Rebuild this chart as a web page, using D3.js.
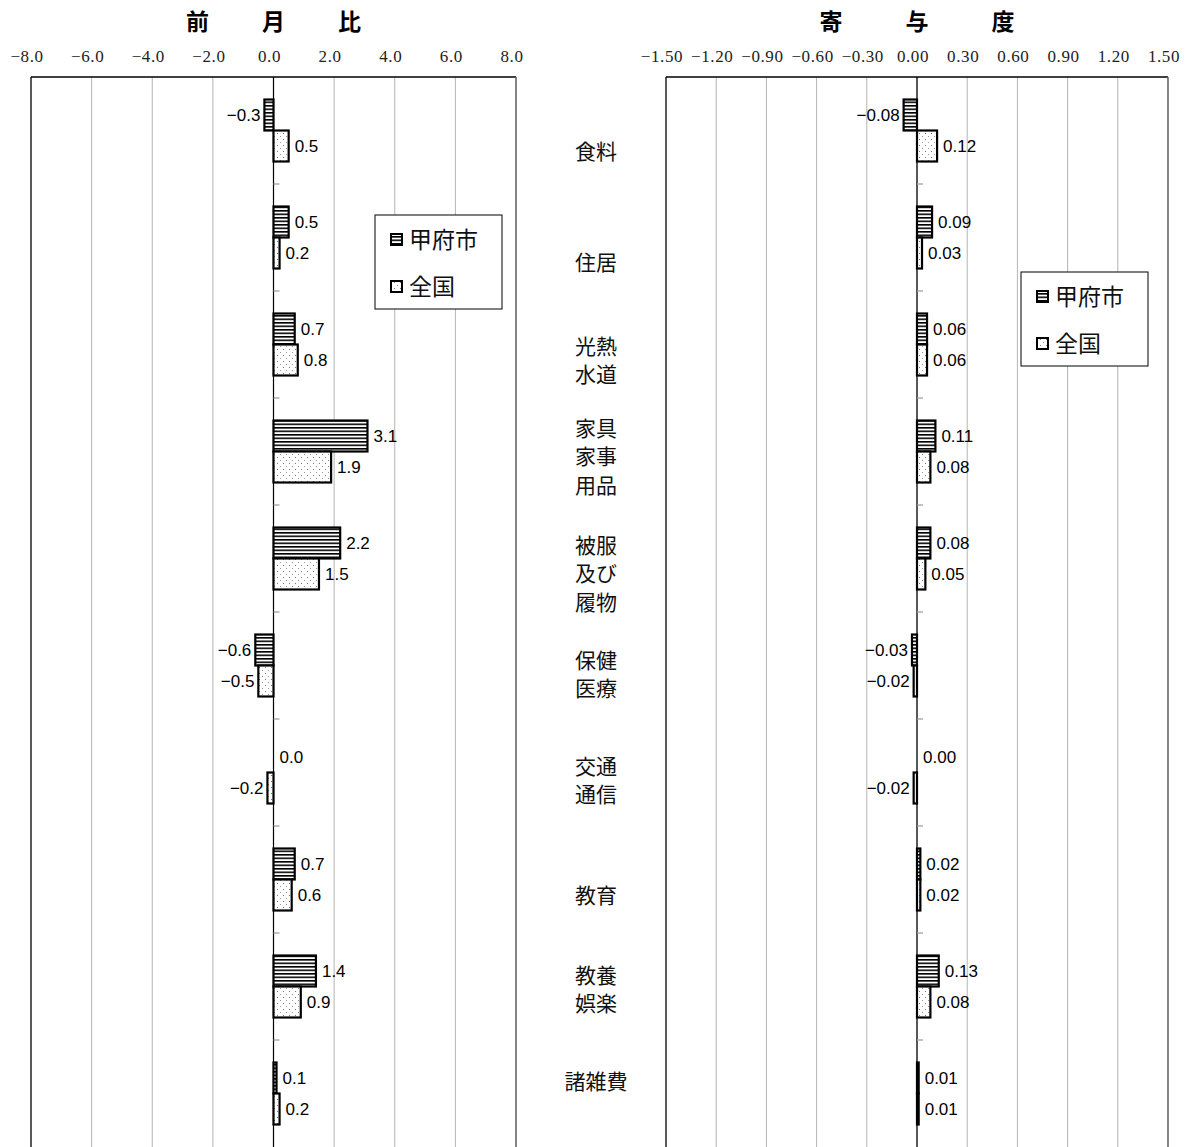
<!DOCTYPE html>
<html><head><meta charset="utf-8">
<script src="https://cdn.jsdelivr.net/npm/d3@7"></script>
<style>body{margin:0;background:#fff} svg{display:block}</style>
</head><body><svg id="c" width="1190" height="1147"></svg>
<script>
// ---- data ----
const categories = ["食料","住居","光熱水道","家具家事用品","被服及び履物","保健医療","交通通信","教育","教養娯楽","諸雑費"];
const categoryLines = [["食料"],["住居"],["光熱","水道"],["家具","家事","用品"],["被服","及び","履物"],["保健","医療"],["交通","通信"],["教育"],["教養","娯楽"],["諸雑費"]];
const seriesNames = ["甲府市","全国"];
const momKofu = [-0.3, 0.5, 0.7, 3.1, 2.2, -0.6, 0.0, 0.7, 1.4, 0.1];
const momNational = [0.5, 0.2, 0.8, 1.9, 1.5, -0.5, -0.2, 0.6, 0.9, 0.2];
const contribKofu = [-0.08, 0.09, 0.06, 0.11, 0.08, -0.03, 0.00, 0.02, 0.13, 0.01];
const contribNational = [0.12, 0.03, 0.06, 0.08, 0.05, -0.02, -0.02, 0.02, 0.08, 0.01];
const momTicks = [-8, -6, -4, -2, 0, 2, 4, 6, 8];
const contribTicks = [-1.5, -1.2, -0.9, -0.6, -0.3, 0, 0.3, 0.6, 0.9, 1.2, 1.5];
const titles = ["前月比", "寄与度"];

// ---- layout ----
const plotTop = 77, plotBottom = 1147;
const labelNudge = [21, 25, 16, 5, 15, 9, 8, 16, 3, -12];
const svg = d3.select("#c");
const defs = svg.append("defs");
const stripe = defs.append("pattern").attr("id","stripe").attr("patternUnits","userSpaceOnUse").attr("width",4).attr("height",3.5);
stripe.append("rect").attr("width",4).attr("height",3.5).attr("fill","#fff");
stripe.append("rect").attr("y",0).attr("width",4).attr("height",1.6).attr("fill","#000");
const dots = defs.append("pattern").attr("id","dots").attr("patternUnits","userSpaceOnUse").attr("width",6).attr("height",6);
dots.append("rect").attr("width",6).attr("height",6).attr("fill","#fff");
dots.append("rect").attr("x",1).attr("y",1).attr("width",1).attr("height",1).attr("fill","#777");
dots.append("rect").attr("x",4).attr("y",4).attr("width",1).attr("height",1).attr("fill","#999");
const fills = {"甲府市":"url(#stripe)","全国":"url(#dots)"};

const y = d3.scaleBand().domain(categories).range([plotTop, plotBottom]);
const ySub = d3.scaleBand().domain(seriesNames).range([0, y.bandwidth()]).paddingOuter(0.726);

function panel(x, kofu, nat, ticks, tickFmt, valFmt, title, titleGap, legend) {
  const g = svg.append("g");
  const [x0, x1] = x.range();
  // grid
  g.selectAll("line.grid").data(ticks.slice(1, -1)).join("line")
    .attr("x1", d => x(d)).attr("x2", d => x(d)).attr("y1", plotTop).attr("y2", plotBottom)
    .attr("stroke", "#b4b4b4").attr("stroke-width", 1);
  // frame
  g.append("line").attr("x1", x0).attr("x2", x1).attr("y1", plotTop).attr("y2", plotTop).attr("stroke","#000").attr("stroke-width",1.3);
  g.append("line").attr("x1", x0).attr("x2", x0).attr("y1", plotTop).attr("y2", plotBottom).attr("stroke","#000").attr("stroke-width",1.3);
  g.append("line").attr("x1", x1).attr("x2", x1).attr("y1", plotTop).attr("y2", plotBottom).attr("stroke","#666").attr("stroke-width",1.6);
  // tick labels
  g.selectAll("text.tick").data(ticks).join("text")
    .attr("x", d => x(d) - 4).attr("y", 62).attr("text-anchor","middle")
    .attr("font-family","'Liberation Serif', serif").attr("font-size", 17).attr("letter-spacing", 0.6).attr("fill","#222")
    .text(d => tickFmt(d));
  // title
  const tc = x(0);
  g.selectAll("text.title").data(title.split("")).join("text")
    .attr("x", (d,i) => tc + (i - 1) * titleGap).attr("y", 22).attr("dy","0.36em")
    .attr("text-anchor","middle").attr("font-family","'Noto Sans CJK JP', sans-serif")
    .attr("font-weight","bold").attr("font-size", 23).text(d => d);
  // zero axis
  g.append("line").attr("x1", x(0)).attr("x2", x(0)).attr("y1", plotTop).attr("y2", plotBottom).attr("stroke","#000").attr("stroke-width",1.2);
  g.selectAll("line.ct").data(categories.slice(1)).join("line")
    .attr("x1", x(0)).attr("x2", x(0) + 6).attr("y1", d => y(d)).attr("y2", d => y(d))
    .attr("stroke", "#999").attr("stroke-width", 1.2);
  // bars
  const rows = [];
  categories.forEach((c, i) => {
    rows.push({c, s: "甲府市", v: kofu[i]});
    rows.push({c, s: "全国", v: nat[i]});
  });
  g.selectAll("rect.bar").data(rows).join("rect")
    .attr("x", d => Math.min(x(0), x(d.v)))
    .attr("width", d => Math.abs(x(d.v) - x(0)))
    .attr("y", d => y(d.c) + ySub(d.s))
    .attr("height", ySub.bandwidth())
    .attr("fill", d => fills[d.s]).attr("stroke","#000").attr("stroke-width", 2.2);
  g.selectAll("text.val").data(rows).join("text")
    .attr("x", d => d.v >= 0 ? x(d.v) + 6 : x(d.v) - 4)
    .attr("y", d => y(d.c) + ySub(d.s) + ySub.bandwidth() / 2)
    .attr("dy", "0.36em")
    .attr("text-anchor", d => d.v >= 0 ? "start" : "end")
    .attr("font-family", "'Liberation Sans', Arial, sans-serif").attr("font-size", 17)
    .text(d => valFmt(d.v));
  // legend
  const lg = g.append("g").attr("transform", `translate(${legend[0]},${legend[1]})`);
  lg.append("rect").attr("width", 127).attr("height", 94).attr("fill","#fff").attr("stroke","#000").attr("stroke-width",1);
  seriesNames.forEach((s, i) => {
    const cy = 25 + i * 47;
    lg.append("rect").attr("x", 16).attr("y", cy - 6).attr("width", 11).attr("height", 11)
      .attr("fill", fills[s]).attr("stroke", "#000").attr("stroke-width", 2);
    lg.append("text").attr("x", 34).attr("y", cy).attr("dy", "0.36em")
      .attr("font-family","'Noto Sans CJK JP', sans-serif").attr("font-size", 23).attr("fill","#111").text(s);
  });
}

const fmt1 = d3.format(".1f"), fmt2 = d3.format(".2f");
const xL = d3.scaleLinear().domain([momTicks[0], momTicks[momTicks.length-1]]).range([31, 516]);
const xR = d3.scaleLinear().domain([contribTicks[0], contribTicks[contribTicks.length-1]]).range([666, 1168]);
panel(xL, momKofu, momNational, momTicks, fmt1, fmt1, titles[0], 76, [375, 215]);
panel(xR, contribKofu, contribNational, contribTicks, fmt2, fmt2, titles[1], 86, [1021, 272]);

// category labels
const cg = svg.append("g");
categories.forEach((c, i) => {
  const lines = categoryLines[i];
  const cy = y(c) + y.bandwidth() / 2 + labelNudge[i];
  lines.forEach((t, j) => {
    cg.append("text").attr("x", 596).attr("y", cy + (j - (lines.length - 1) / 2) * 28.5)
      .attr("dy", "0.36em").attr("text-anchor", "middle")
      .attr("font-family", "'Noto Sans CJK JP', sans-serif").attr("font-size", 21).attr("fill", "#111")
      .text(t);
  });
});
</script></body></html>
